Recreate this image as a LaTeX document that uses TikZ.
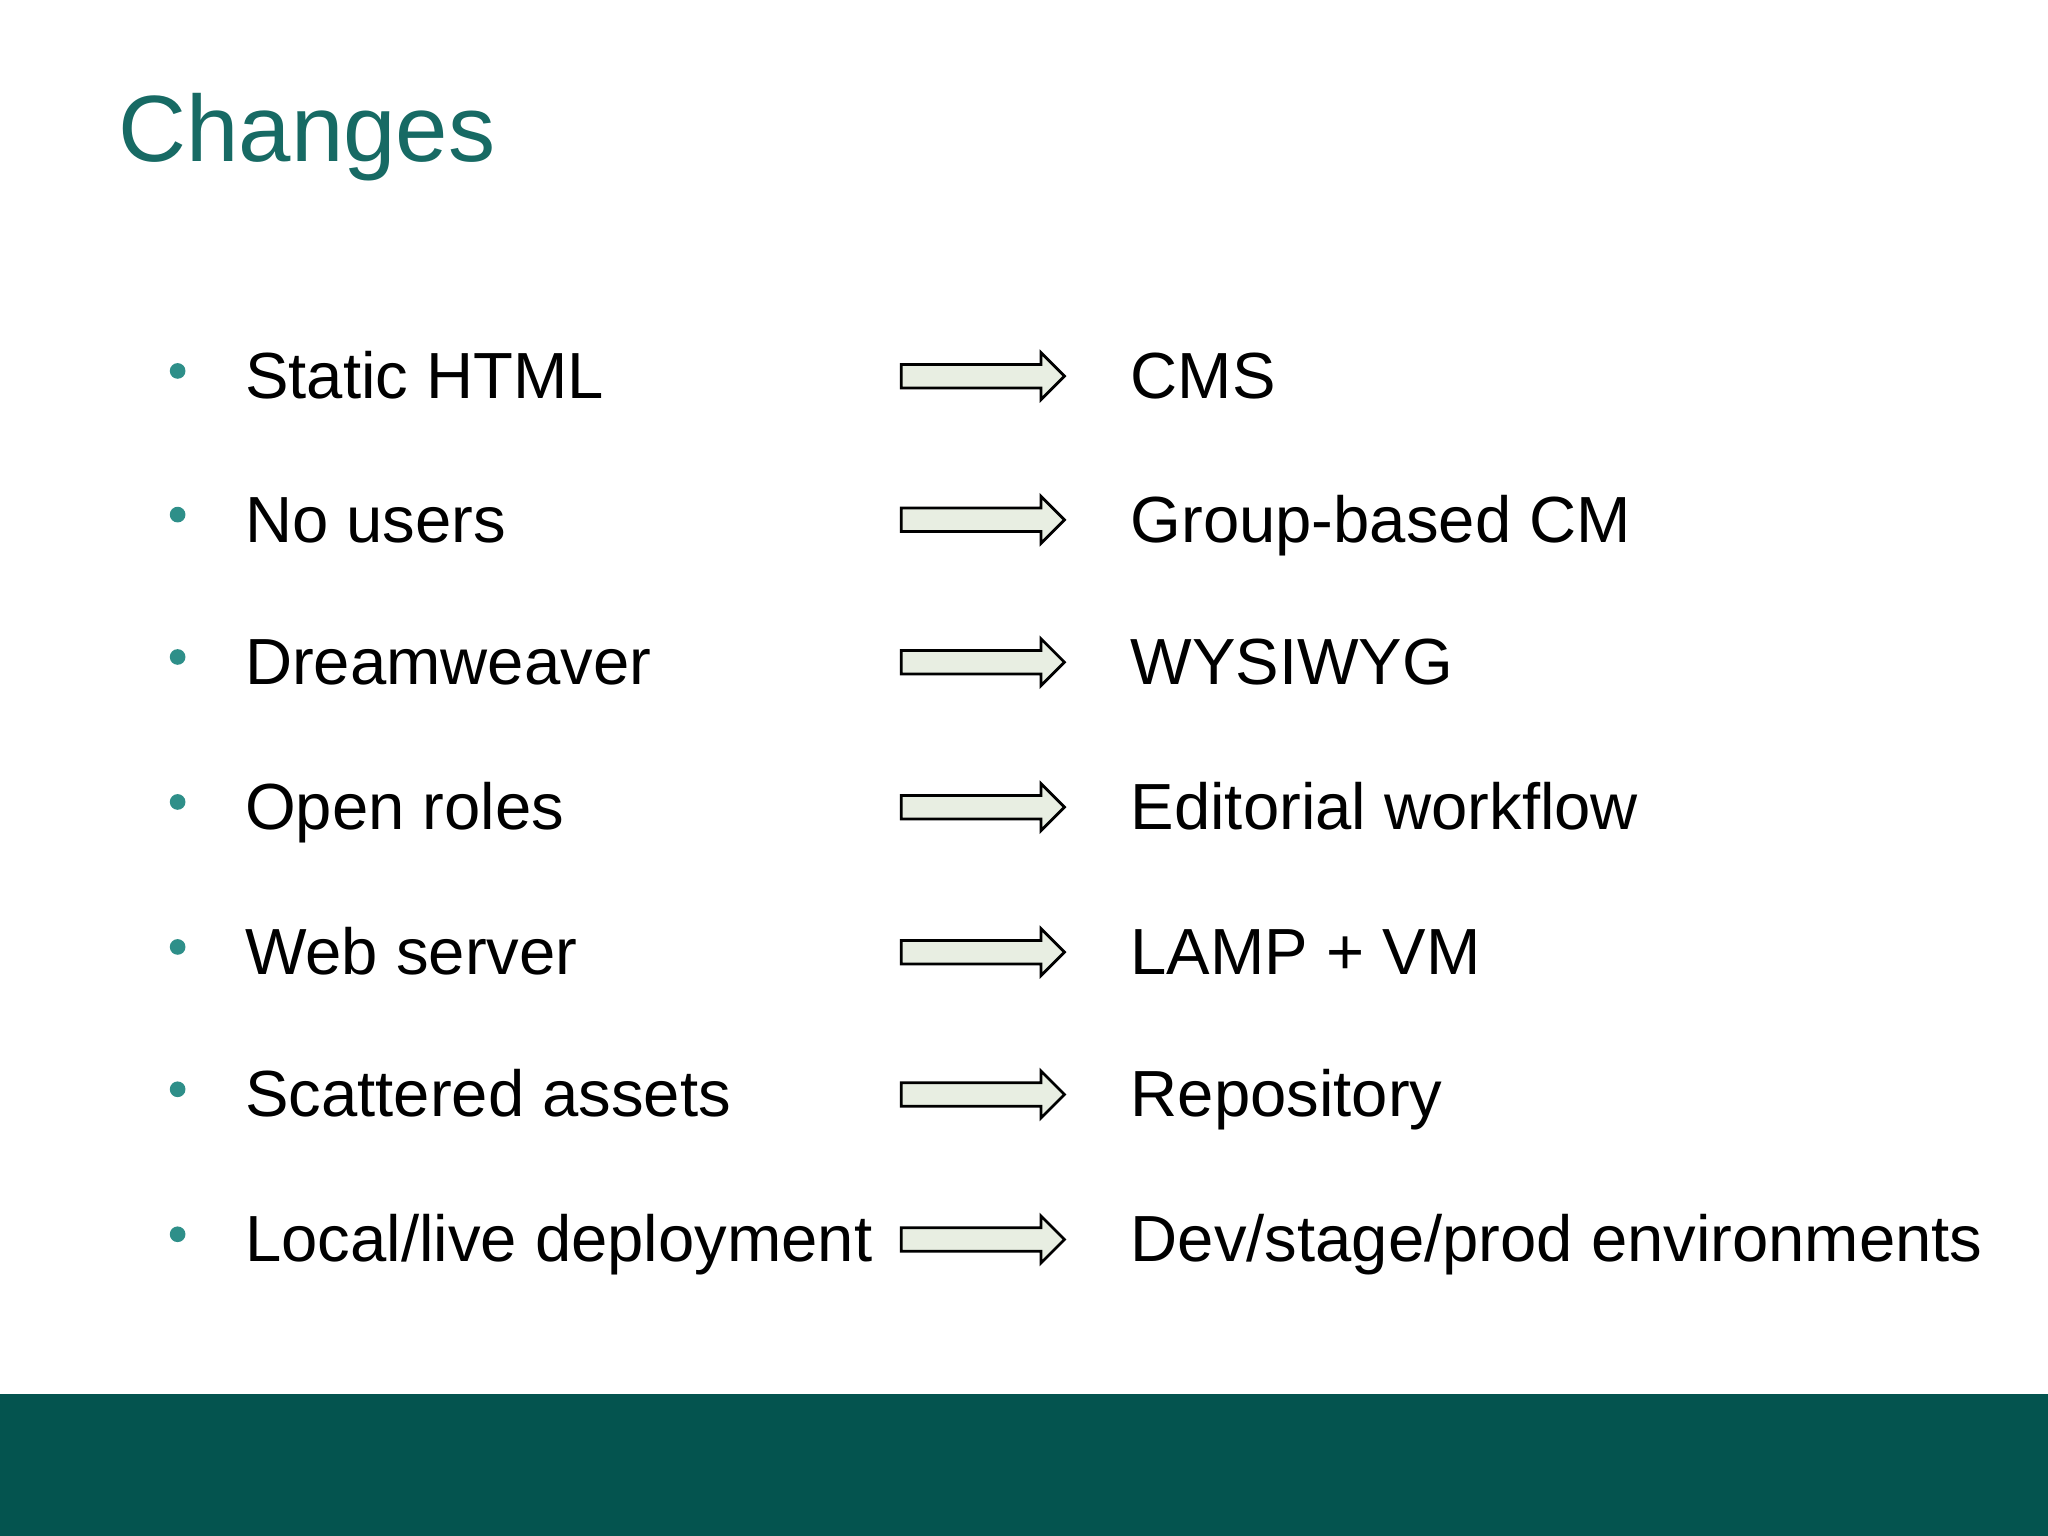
\documentclass[tikz,border=0pt]{standalone}
\usepackage{fontspec}
\setmainfont{Liberation Sans}
\definecolor{bar}{HTML}{04544F}
\definecolor{ttl}{HTML}{176A64}
\definecolor{bul}{HTML}{2E8F89}
\definecolor{arfill}{HTML}{E8EEE2}
\begin{document}
\begin{tikzpicture}[x=0.01cm,y=-0.01cm,
  item/.style={anchor=base west,inner sep=0pt,font=\fontsize{14.2pt}{17pt}\selectfont},
  bulletdot/.style={circle,fill=bul,inner sep=0pt,minimum size=0.12cm}]
\useasboundingbox (0,0) rectangle (1568,1176);
\fill[white] (0,0) rectangle (1568,1176);
\fill[bar] (0,1067) rectangle (1568,1176);
\node[anchor=base west,inner sep=0pt,text=ttl,font=\fontsize{20.5pt}{24pt}\selectfont] (title) at (90,124) {Changes};
\foreach \i/\y/\l/\r in {1/288/Static HTML/CMS, 2/398/No users/Group-based CM, 3/507/Dreamweaver/WYSIWYG, 4/618/Open roles/Editorial workflow, 5/729/Web server/LAMP + VM, 6/838/Scattered assets/Repository, 7/949/Local\slash live deployment/Dev\slash stage\slash prod environments}{
  \node[bulletdot] (b\i) at (136,\y-4) {};
  \node[item] (l\i) at (187,\y+17) {\l};
  \node[item] (r\i) at (865,\y+17) {\r};
  \draw[fill=arfill,line width=0.6pt] (690,\y-9) -- (797,\y-9) -- (797,\y-18) -- (815,\y) -- (797,\y+18) -- (797,\y+9) -- (690,\y+9) -- cycle;
}
\end{tikzpicture}
\end{document}
